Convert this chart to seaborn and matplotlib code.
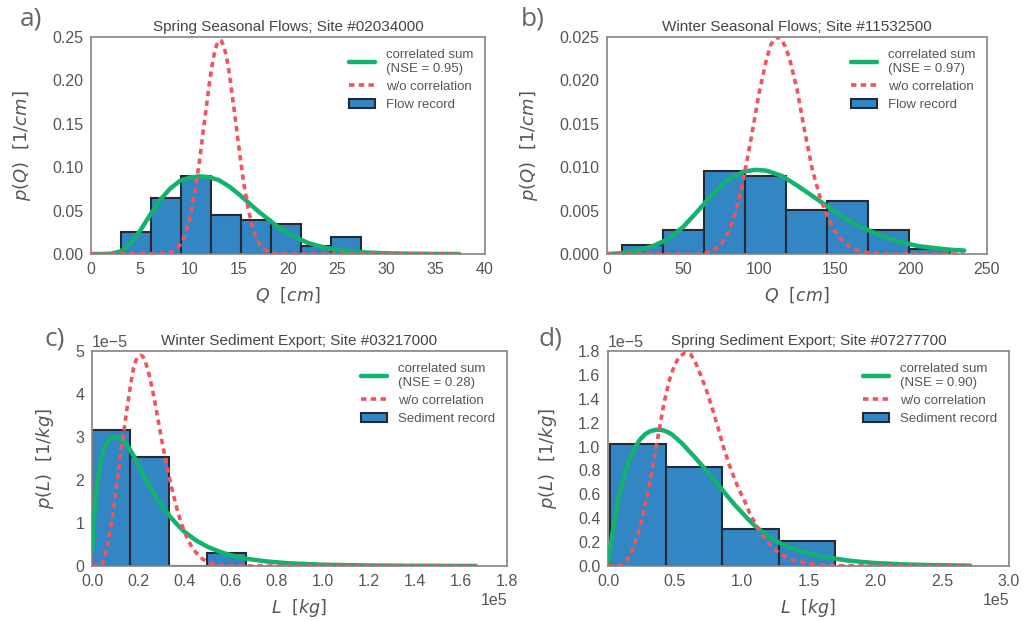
import matplotlib
matplotlib.use("Agg")
import matplotlib.pyplot as plt
import seaborn as sns
from matplotlib.lines import Line2D
from matplotlib.patches import Patch

# ---------------- data ----------------
# Panel a: Spring Seasonal Flows (Q in cm, p in 1/cm)
a_edges = [3.0, 6.05, 9.1, 12.15, 15.2, 18.25, 21.3, 24.35, 27.4]
a_heights = [0.0249, 0.0647, 0.0896, 0.0444, 0.0394, 0.0345, 0.0096, 0.0199]
a_green_x = [0, 1, 2, 3, 4, 5, 6, 7, 8, 9, 10, 11, 12, 13, 14, 15, 16, 17, 18, 19,
             20, 21, 22, 23, 24, 25, 26, 27, 28, 30, 32, 34, 37.4]
a_green_y = [0.0, 0.0, 0.0003, 0.003, 0.012, 0.027, 0.045, 0.062, 0.075, 0.084, 0.088,
             0.0895, 0.0885, 0.085, 0.078, 0.069, 0.059, 0.049, 0.040, 0.031, 0.024,
             0.018, 0.013, 0.0095, 0.0068, 0.0048, 0.0034, 0.0024, 0.0017, 0.0008,
             0.0004, 0.0002, 0.0]
a_red_x = [0, 7.5, 8.0, 8.5, 9.0, 9.5, 10.0, 10.5, 11.0, 11.5, 12.0, 12.25, 12.5, 12.75,
           13.0, 13.25, 13.5, 13.75, 14.0, 14.5, 15.0, 15.5, 16.0, 16.5, 17.0, 17.5,
           18.0, 18.5, 19.0, 20.0, 37.4]
a_red_y = [0.0, 0.0005, 0.0017, 0.0044, 0.0100, 0.0208, 0.0395, 0.0679, 0.106, 0.151,
           0.195, 0.2148, 0.230, 0.2408, 0.2460, 0.2454, 0.239, 0.2275, 0.211, 0.169,
           0.124, 0.082, 0.0496, 0.0272, 0.0135, 0.0061, 0.0025, 0.001, 0.0003, 0.0, 0.0]

# Panel b: Winter Seasonal Flows
b_edges = [9.6, 36.6, 63.6, 90.6, 117.6, 144.6, 171.6, 198.6, 225.6]
b_heights = [0.00107, 0.0028, 0.00953, 0.0090, 0.00505, 0.00616, 0.0028, 0.00057]
b_green_x = [0, 10, 20, 30, 40, 50, 60, 70, 80, 90, 98, 105, 115, 125, 135, 145, 155,
             165, 175, 185, 195, 205, 215, 225, 235]
b_green_y = [0.0, 0.0001, 0.0004, 0.0009, 0.0017, 0.0031, 0.0050, 0.0070, 0.0086,
             0.0095, 0.0097, 0.0096, 0.0090, 0.0079, 0.0067, 0.0055, 0.0043, 0.0033,
             0.0025, 0.0018, 0.0013, 0.0009, 0.0007, 0.0005, 0.0004]
b_red_x = [0, 60, 65, 70, 75, 80, 85, 90, 95, 100, 105, 108, 111, 114, 117, 120, 125,
           130, 135, 140, 145, 150, 155, 160, 165, 170, 180, 235]
b_red_y = [0.0, 0.0, 0.0001, 0.0004, 0.0011, 0.0025, 0.0050, 0.0088, 0.0135, 0.0185,
           0.0225, 0.0242, 0.0249, 0.0249, 0.0240, 0.0226, 0.0190, 0.0142, 0.0098,
           0.0066, 0.0043, 0.0026, 0.0015, 0.0008, 0.0004, 0.0002, 0.0, 0.0]

# Panel c: Winter Sediment Export (L in 1e5 kg, p in 1e-5 1/kg)
c_edges = [0.0, 0.1667, 0.3333, 0.5, 0.6667]
c_heights = [3.17, 2.54, 0.0, 0.31]
c_green_x = [0, 0.005, 0.01, 0.02, 0.03, 0.045, 0.06, 0.08, 0.10, 0.12, 0.14, 0.16,
             0.18, 0.20, 0.22, 0.25, 0.28, 0.31, 0.34, 0.37, 0.40, 0.45, 0.50, 0.55,
             0.60, 0.67, 0.75, 0.85, 1.0, 1.2, 1.4, 1.665]
c_green_y = [0.35, 0.8, 1.2, 1.8, 2.2, 2.6, 2.83, 2.96, 3.0, 2.98, 2.9, 2.75, 2.57,
             2.36, 2.14, 1.84, 1.58, 1.35, 1.14, 0.96, 0.80, 0.60, 0.45, 0.34, 0.25,
             0.17, 0.11, 0.065, 0.03, 0.012, 0.005, 0.002]
c_red_x = [0, 0.03, 0.04, 0.05, 0.06, 0.07, 0.08, 0.09, 0.10, 0.11, 0.12, 0.13, 0.14,
           0.15, 0.16, 0.17, 0.18, 0.19, 0.20, 0.21, 0.22, 0.23, 0.24, 0.25, 0.26,
           0.27, 0.28, 0.29, 0.30, 0.31, 0.32, 0.33, 0.34, 0.35, 0.37, 0.39, 0.41,
           0.43, 0.45, 0.48, 0.51, 0.55, 0.60, 0.70, 1.665]
c_red_y = [0.0, 0.0, 0.02, 0.12, 0.32, 0.55, 0.85, 1.2, 1.6, 2.0, 2.45, 2.85, 3.2,
           3.6, 3.95, 4.3, 4.6, 4.78, 4.87, 4.9, 4.88, 4.78, 4.6, 4.4, 4.15, 3.9,
           3.6, 3.3, 3.0, 2.72, 2.45, 2.2, 1.95, 1.72, 1.3, 0.95, 0.68, 0.47, 0.32,
           0.16, 0.07, 0.025, 0.005, 0.0, 0.0]

# Panel d: Spring Sediment Export
d_edges = [0.0125, 0.434, 0.856, 1.278, 1.70]
d_heights = [1.025, 0.825, 0.307, 0.206]
d_green_x = [0, 0.02, 0.04, 0.06, 0.08, 0.10, 0.13, 0.16, 0.20, 0.24, 0.28, 0.32,
             0.36, 0.40, 0.44, 0.48, 0.52, 0.56, 0.60, 0.65, 0.70, 0.75, 0.80, 0.85,
             0.90, 0.95, 1.00, 1.05, 1.10, 1.15, 1.20, 1.25, 1.30, 1.35, 1.40, 1.50,
             1.60, 1.70, 1.80, 1.90, 2.00, 2.20, 2.40, 2.71]
d_green_y = [0.0, 0.17, 0.32, 0.46, 0.58, 0.67, 0.79, 0.89, 0.99, 1.06, 1.105, 1.13,
             1.14, 1.14, 1.125, 1.10, 1.06, 1.02, 0.97, 0.91, 0.845, 0.78, 0.71,
             0.645, 0.575, 0.51, 0.45, 0.39, 0.335, 0.29, 0.25, 0.215, 0.185, 0.16,
             0.14, 0.105, 0.08, 0.062, 0.045, 0.034, 0.025, 0.014, 0.008, 0.003]
d_red_x = [0, 0.06, 0.10, 0.14, 0.18, 0.22, 0.26, 0.30, 0.34, 0.38, 0.42, 0.46, 0.50,
           0.54, 0.58, 0.62, 0.66, 0.70, 0.74, 0.78, 0.82, 0.86, 0.90, 0.94, 0.98,
           1.02, 1.06, 1.10, 1.14, 1.18, 1.22, 1.26, 1.30, 1.35, 1.40, 1.48, 1.56,
           1.65, 1.80, 2.0, 2.71]
d_red_y = [0.0, 0.0, 0.01, 0.045, 0.13, 0.25, 0.42, 0.62, 0.87, 1.12, 1.37, 1.56,
           1.69, 1.76, 1.785, 1.77, 1.69, 1.58, 1.46, 1.32, 1.17, 1.01, 0.87, 0.75,
           0.64, 0.55, 0.44, 0.36, 0.28, 0.22, 0.165, 0.125, 0.095, 0.065, 0.043,
           0.025, 0.012, 0.005, 0.001, 0.0, 0.0]

titles = ["Spring Seasonal Flows; Site #02034000",
          "Winter Seasonal Flows; Site #11532500",
          "Winter Sediment Export; Site #03217000",
          "Spring Sediment Export; Site #07277700"]
nse_labels = ["correlated sum\n(NSE = 0.95)", "correlated sum\n(NSE = 0.97)",
              "correlated sum\n(NSE = 0.28)", "correlated sum\n(NSE = 0.90)"]
record_labels = ["Flow record", "Flow record", "Sediment record", "Sediment record"]
panel_letters = ["a)", "b)", "c)", "d)"]
a_xticks = [0, 5, 10, 15, 20, 25, 30, 35, 40]
a_yticks = [0.0, 0.05, 0.10, 0.15, 0.20, 0.25]
b_xticks = [0, 50, 100, 150, 200, 250]
b_yticks = [0.0, 0.005, 0.010, 0.015, 0.020, 0.025]
c_xticks = [0.0, 0.2, 0.4, 0.6, 0.8, 1.0, 1.2, 1.4, 1.6, 1.8]
c_yticks = [0, 1, 2, 3, 4, 5]
d_xticks = [0.0, 0.5, 1.0, 1.5, 2.0, 2.5, 3.0]
d_yticks = [0.0, 0.2, 0.4, 0.6, 0.8, 1.0, 1.2, 1.4, 1.6, 1.8]

X_SCALE = 1e5   # panels c, d x units
Y_SCALE = 1e-5  # panels c, d y units

# ---------------- style ----------------
sns.set_style("white")
plt.rcParams['font.family'] = ['Liberation Sans', 'DejaVu Sans']
plt.rcParams['mathtext.fontset'] = 'dejavusans'
plt.rcParams['axes.edgecolor'] = '#8c8c8c'
plt.rcParams['axes.linewidth'] = 1.3
plt.rcParams['xtick.color'] = '#555555'
plt.rcParams['ytick.color'] = '#555555'
plt.rcParams['xtick.labelsize'] = 11.5
plt.rcParams['ytick.labelsize'] = 11.5
plt.rcParams['xtick.major.size'] = 0
plt.rcParams['ytick.major.size'] = 0
plt.rcParams['xtick.major.pad'] = 5.5
plt.rcParams['ytick.major.pad'] = 5.5
plt.rcParams['axes.labelcolor'] = '#555555'

BLUE = '#3286c4'
EDGE = '#262a33'
GREEN = '#12b36f'
RED = '#f0545c'
RED_DASH = (0, (1.5, 1.2))

W, H = 1035, 621
fig = plt.figure(figsize=(W / 100, H / 100), dpi=100)

# axes boxes in pixels (left, right, top, bottom)
boxes = [(91, 485, 37, 254), (607, 987, 37, 254), (92, 507, 351, 566), (608, 1009, 351, 566)]

panels = [
    (a_edges, a_heights, a_green_x, a_green_y, a_red_x, a_red_y, 1, 1,
     (0, 40), (0, 0.25), a_xticks, a_yticks, r"$Q\ \ [cm]$", r"$p(Q)\ \ [1/cm]$"),
    (b_edges, b_heights, b_green_x, b_green_y, b_red_x, b_red_y, 1, 1,
     (0, 250), (0, 0.025), b_xticks, b_yticks, r"$Q\ \ [cm]$", r"$p(Q)\ \ [1/cm]$"),
    (c_edges, c_heights, c_green_x, c_green_y, c_red_x, c_red_y, X_SCALE, Y_SCALE,
     (0, 1.8), (0, 5), c_xticks, c_yticks, r"$L\ \ [kg]$", r"$p(L)\ \ [1/kg]$"),
    (d_edges, d_heights, d_green_x, d_green_y, d_red_x, d_red_y, X_SCALE, Y_SCALE,
     (0, 3.0), (0, 1.8), d_xticks, d_yticks, r"$L\ \ [kg]$", r"$p(L)\ \ [1/kg]$"),
]

letter_pos = [(20, 6), (521, 6), (44, 326), (539, 326)]

for i, (box, p) in enumerate(zip(boxes, panels)):
    l, r, t, b = box
    ax = fig.add_axes([l / W, 1 - b / H, (r - l) / W, (b - t) / H])
    edges, heights, gx, gy, rx, ry, xs, ys, xlim, ylim, xt, yt, xl, yl = p
    edges_s = [e * xs for e in edges]
    centers = [(edges_s[k] + edges_s[k + 1]) / 2 for k in range(len(heights))]
    sns.histplot(x=centers, weights=[h * ys for h in heights], bins=edges_s,
                 stat='count', ax=ax, color=BLUE, edgecolor=EDGE, linewidth=1.5,
                 alpha=1.0, zorder=2)
    sns.lineplot(x=[v * xs for v in gx], y=[v * ys for v in gy], ax=ax, color=GREEN,
                 linewidth=3.2, sort=False, estimator=None, zorder=3)
    sns.lineplot(x=[v * xs for v in rx], y=[v * ys for v in ry], ax=ax, color=RED,
                 linewidth=2.6, linestyle=RED_DASH, sort=False, estimator=None, zorder=4)
    ax.set_xlim(xlim[0] * xs, xlim[1] * xs)
    ax.set_ylim(ylim[0] * ys, ylim[1] * ys)
    ax.set_xticks([v * xs for v in xt])
    ax.set_yticks([v * ys for v in yt])
    if xs != 1:
        ax.ticklabel_format(style='sci', axis='both', scilimits=(0, 0))
    ax.set_xlabel(xl, fontsize=12.5, labelpad=6)
    ax.set_ylabel(yl, fontsize=13, labelpad=14)
    ax.set_title(titles[i], fontsize=11, color='#444444', pad=4)
    for s in ax.spines.values():
        s.set_visible(True)
        s.set_color('#8c8c8c')
    handles = [Line2D([], [], color=GREEN, linewidth=3.2),
               Line2D([], [], color=RED, linewidth=2.6, linestyle=RED_DASH),
               Patch(facecolor=BLUE, edgecolor=EDGE, linewidth=1.5)]
    leg = ax.legend(handles, [nse_labels[i], "w/o correlation", record_labels[i]],
                    loc='upper right', frameon=False, fontsize=9.5,
                    labelspacing=0.45, handletextpad=0.8)
    for txt in leg.get_texts():
        txt.set_color('#555555')
    lx, ly = letter_pos[i]
    fig.text(lx / W, 1 - ly / H, panel_letters[i], fontsize=19, color='#666666',
             family=['Open Sans', 'DejaVu Sans'], ha='left', va='top')

fig.savefig("out.png", dpi=100)
